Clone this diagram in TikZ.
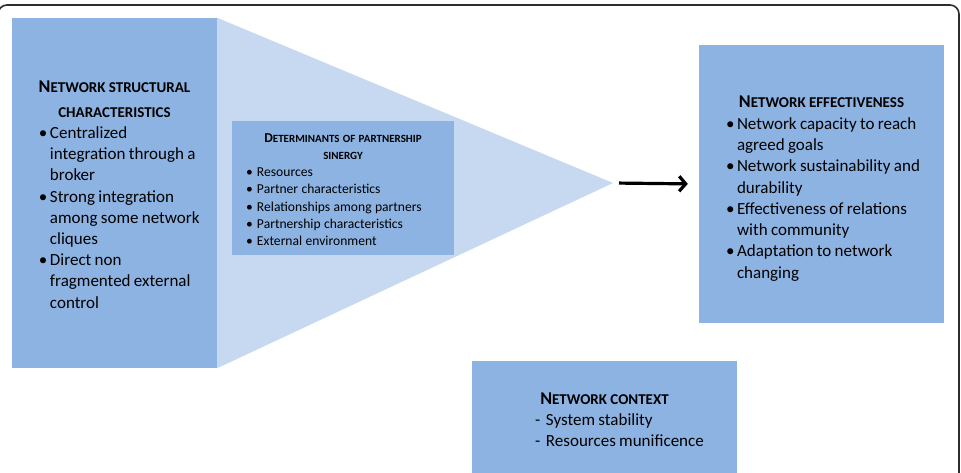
\documentclass[tikz,border=0pt]{standalone}
\usepackage{fontspec}
\setmainfont{Carlito}
\usetikzlibrary{arrows.meta,positioning}
\definecolor{cbox}{RGB}{141,179,226}
\definecolor{cfunnel}{RGB}{198,217,241}
\definecolor{cframe}{RGB}{45,45,45}
% fake small caps: first letter, then the rest at a smaller size
\newcommand{\hcap}[3]{#2{\fontsize{#1}{0}\selectfont #3}}
\newcommand{\boxhead}[4]{{\centering\fontsize{#1}{#2}\selectfont\bfseries
  \rule{0pt}{#3}#4\par}}
\newcommand{\litem}[2]{\par\hangindent=11pt\hangafter=1\noindent
  \makebox[11pt][l]{#1}#2}

\begin{document}
\begin{tikzpicture}[x=1pt,y=-1pt,>={Straight Barb[length=6.5pt,width=15pt]},
  box/.style={fill=cbox,inner sep=0pt,text width=#1,minimum width=#1,
              font={\parindent=0pt\parskip=0pt\rightskip=0pt plus 1fil}},
  funnel/.style={fill=cfunnel},
  arr/.style={->,line width=3.2pt,shorten <=6pt,shorten >=11pt}]
\useasboundingbox (0,0) rectangle (961,472);
\draw[cframe,line width=1.6pt,rounded corners=9pt] (-2,5) rectangle (959,530);
\node (struct) [box=205pt,minimum height=350pt] at (114.5,193)
  {\boxhead{18}{24.5}{15pt}{\hcap{15}{N}{ETWORK STRUCTURAL}\\\hcap{15}{}{CHARACTERISTICS}}
   {\fontsize{17}{21.2}\selectfont\leftskip=27pt
    \litem{\textbullet}{Centralized\newline integration through a\newline broker}
    \litem{\textbullet}{Strong integration\newline among some network\newline cliques}
    \litem{\textbullet}{Direct non\newline fragmented external\newline control}\par}};
\coordinate (apex) at (613,183);
\fill[funnel] (struct.north east) -- (apex) -- (struct.south east) -- cycle;
\node (det) [box=222pt,minimum height=134pt] at (343,188)
  {\boxhead{13.6}{17.3}{12pt}{\hcap{11}{D}{ETERMINANTS OF PARTNERSHIP}\\\hcap{11}{}{SINERGY}}
   {\fontsize{13.6}{17.3}\selectfont\leftskip=14pt
    \litem{\textbullet}{Resources}
    \litem{\textbullet}{Partner characteristics}
    \litem{\textbullet}{Relationships among partners}
    \litem{\textbullet}{Partnership characteristics}
    \litem{\textbullet}{External environment}\par}};
\node (eff) [box=245pt,minimum height=278pt] at (821.5,184)
  {\boxhead{18}{22}{21pt}{\hcap{15}{N}{ETWORK EFFECTIVENESS}}
   {\fontsize{17}{21.3}\selectfont\leftskip=27pt
    \litem{\textbullet}{Network capacity to reach\newline agreed goals}
    \litem{\textbullet}{Network sustainability and\newline durability}
    \litem{\textbullet}{Effectiveness of relations\newline with community}
    \litem{\textbullet}{Adaptation to network\newline changing}\par}};
\node (ctx) [box=265pt,minimum height=118pt] at (604.5,420)
  {\boxhead{18}{21}{0pt}{\hcap{15}{N}{ETWORK CONTEXT}}
   {\fontsize{17}{21}\selectfont\leftskip=63pt
    \litem{-}{System stability}
    \litem{-}{Resources munificence}\par}};
\draw[arr] (apex) -- (eff.west);
\end{tikzpicture}
\end{document}
